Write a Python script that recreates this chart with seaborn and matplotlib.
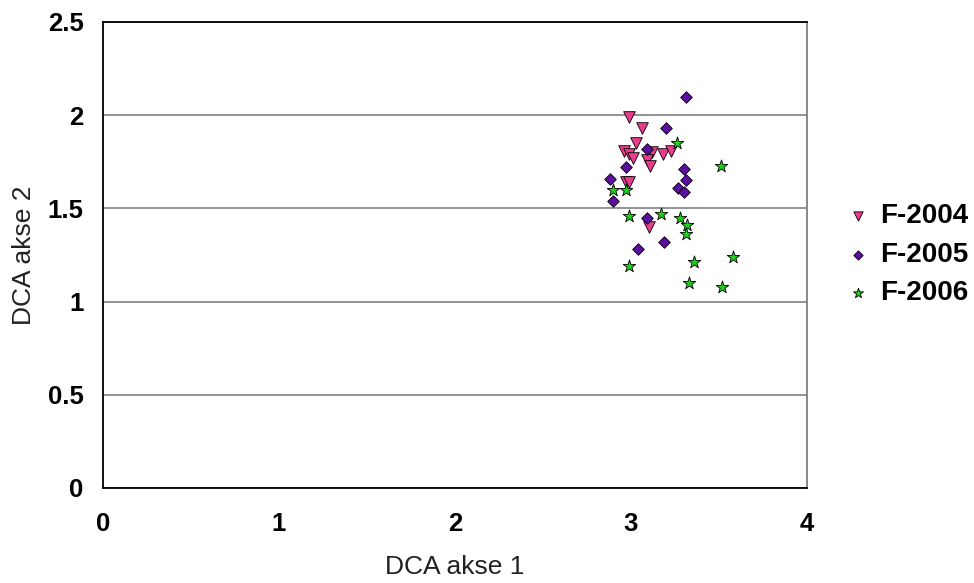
import pandas as pd
import matplotlib.pyplot as plt
import seaborn as sns

# === DATA ===
x_2004 = [2.99, 3.06, 3.03, 2.96, 2.99, 3.01, 3.12, 3.09, 3.11, 3.18, 3.23, 2.97, 2.99, 3.10]
y_2004 = [1.99, 1.93, 1.85, 1.81, 1.79, 1.77, 1.80, 1.76, 1.73, 1.79, 1.81, 1.64, 1.64, 1.40]

x_2005 = [3.31, 3.20, 3.09, 2.97, 3.30, 3.31, 2.88, 3.27, 3.30, 2.90, 3.09, 3.04, 3.19]
y_2005 = [2.10, 1.93, 1.82, 1.72, 1.71, 1.65, 1.66, 1.61, 1.59, 1.54, 1.45, 1.28, 1.32]

x_2006 = [3.26, 3.51, 2.90, 2.97, 2.99, 3.17, 3.28, 3.32, 3.31, 2.99, 3.36, 3.58, 3.33, 3.52]
y_2006 = [1.85, 1.73, 1.60, 1.60, 1.46, 1.47, 1.45, 1.41, 1.36, 1.19, 1.21, 1.24, 1.10, 1.08]

grupper = ['F-2004', 'F-2005', 'F-2006']

df = pd.DataFrame({
    'x': x_2004 + x_2005 + x_2006,
    'y': y_2004 + y_2005 + y_2006,
    'gruppe': [grupper[0]] * len(x_2004) + [grupper[1]] * len(x_2005) + [grupper[2]] * len(x_2006),
})

farger = {'F-2004': '#E83C8C', 'F-2005': '#5A0FA0', 'F-2006': '#1FD01F'}
markorer = {'F-2004': 'v', 'F-2005': 'D', 'F-2006': '*'}
storrelser = {'F-2004': 70, 'F-2005': 35, 'F-2006': 90}

# === FIGUR ===
sns.set_style("white")
plt.rcParams['font.family'] = ['Liberation Sans', 'DejaVu Sans']
fig = plt.figure(figsize=(9.74, 5.83), dpi=100)
ax = fig.add_axes([0.1057, 0.163, 0.7228, 0.7993])

for g in grupper:
    sub = df[df['gruppe'] == g]
    sns.scatterplot(data=sub, x='x', y='y', color=farger[g], marker=markorer[g],
                    s=storrelser[g], edgecolor='black', linewidth=0.6, ax=ax, label=g, zorder=3)

ax.set_xlim(0, 4)
ax.set_ylim(0, 2.5)
ax.set_xticks([0, 1, 2, 3, 4])
ax.set_yticks([0, 0.5, 1, 1.5, 2, 2.5])
ax.set_yticklabels(['0', '0.5', '1', '1.5', '2', '2.5'])
ax.yaxis.grid(True, color='#808080', linewidth=1.2)
ax.set_axisbelow(True)

for s in ax.spines.values():
    s.set_color('black')
    s.set_linewidth(1.3)
ax.spines['right'].set_color('#808080')

ax.tick_params(axis='both', length=0, colors='black', labelsize=18.5)
ax.tick_params(axis='y', pad=14)
ax.tick_params(axis='x', pad=17)
for lab in ax.get_xticklabels() + ax.get_yticklabels():
    lab.set_fontweight('bold')

ax.set_xlabel('DCA akse 1', fontsize=19, labelpad=14, color='#222222')
ax.set_ylabel('DCA akse 2', fontsize=19, labelpad=8, color='#222222')

leg = ax.legend(loc='center left', bbox_to_anchor=(1.037, 0.5), frameon=False,
                prop={'weight': 'bold', 'size': 20}, handlelength=1.0, handletextpad=0.3,
                labelspacing=0.45, borderaxespad=0, markerscale=0.8, labelcolor='black')

fig.savefig('out.png', dpi=100)
